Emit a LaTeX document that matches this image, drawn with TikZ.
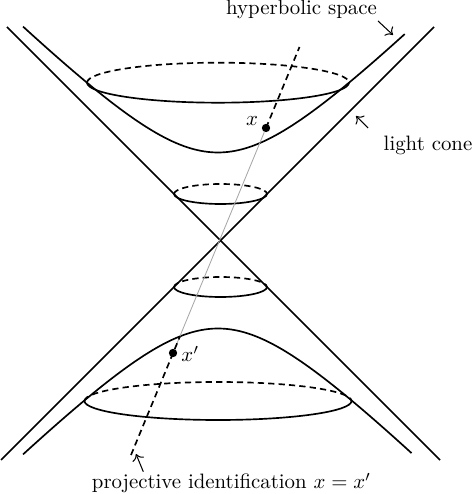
\documentclass[tikz,border=0pt]{standalone}
\usetikzlibrary{calc,arrows.meta}
\begin{document}
\begin{tikzpicture}[x=0.48pt,y=0.48pt,
  curve/.style={line width=0.8pt},
  hidden/.style={line width=0.8pt, dash pattern=on 3pt off 2pt},
  pointer/.style={-{To[length=3pt,width=6pt]}, line width=0.5pt},
  ray/.style={gray!70, line width=0.4pt},
  dot/.style={circle, fill=black, inner sep=0pt, minimum size=4pt}]
\useasboundingbox (0,0) rectangle (474,494);
% light cone
\coordinate (A) at (220.5,253.5);
\coordinate (TL) at (7,467);
\coordinate (TR) at (434,467);
\coordinate (BL) at (1,34);
\coordinate (BR) at (440,34);
\draw[curve] (TL) -- (BR);
\draw[curve] (TR) -- (BL);
% hyperboloid sheets
\draw[curve] plot[domain=-1.536:1.497, samples=80, variable=\t] ({218+88*sinh(\t)}, {253.5+88*cosh(\t)});
\draw[curve] plot[domain=-1.536:1.53, samples=80, variable=\t] ({218+88*sinh(\t)}, {253.5-88*cosh(\t)});
% ellipses on the hyperboloid
\draw[hidden] (87,411.3) arc[start angle=180, end angle=0, x radius=131, y radius=20];
\draw[curve] (87,411.3) arc[start angle=180, end angle=360, x radius=131, y radius=20];
\draw[hidden] (84.5,93) arc[start angle=180, end angle=0, x radius=133.5, y radius=19];
\draw[curve] (84.5,93) arc[start angle=180, end angle=360, x radius=133.5, y radius=19];
% ellipses on the cone
\draw[hidden] (174,300) arc[start angle=180, end angle=0, x radius=46.5, y radius=10];
\draw[curve] (174,300) arc[start angle=180, end angle=360, x radius=46.5, y radius=10];
\draw[hidden] (174,207) arc[start angle=180, end angle=0, x radius=46.5, y radius=10];
\draw[curve] (174,207) arc[start angle=180, end angle=360, x radius=46.5, y radius=10];
% projective identification line
\node[dot] (x) at (266,366) {};
\node[dot] (xp) at (173,141) {};
\coordinate (top) at (299.5,447);
\coordinate (bot) at (131,39);
\coordinate (cross) at (180,157.7);
\draw[ray] (x) -- (xp);
\draw[hidden] (x.center) -- (top);
\draw[hidden] (bot) -- (cross);
\node[anchor=base east, inner sep=0pt] (xl) at (258.5,368.5) {$x$};
\node[anchor=base west, inner sep=0pt] (xpl) at (181,132) {$x'$};
% labels
\node[anchor=base, inner sep=0pt] (hs) at (301.5,479) {hyperbolic space};
\coordinate (hs1) at (378,473);
\coordinate (hs2) at (393,459);
\draw[pointer] (hs1) -- (hs2);
\node[anchor=base, inner sep=0pt] (lc) at (428,343) {light cone};
\coordinate (lc1) at (368,366);
\coordinate (lc2) at (356,378);
\draw[pointer] (lc1) -- (lc2);
\node[anchor=base, inner sep=0pt] (pi) at (231.5,5) {projective identification $x=x'$};
\coordinate (pi1) at (143.3,22.3);
\coordinate (pi2) at (136,40);
\draw[pointer] (pi1) -- (pi2);
\end{tikzpicture}
\end{document}
